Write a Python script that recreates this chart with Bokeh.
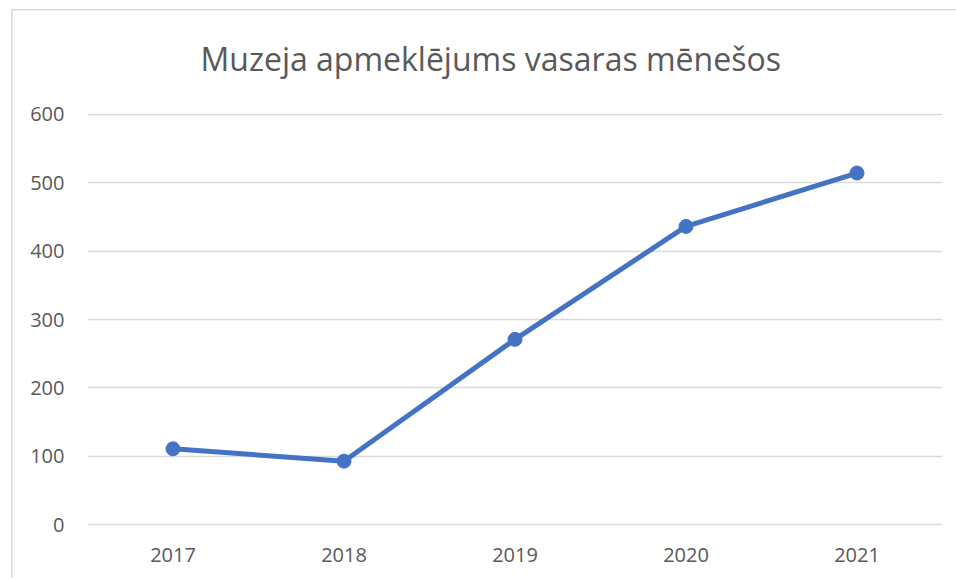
from bokeh.plotting import figure
from bokeh.models import FixedTicker
from bokeh.embed import file_html
from bokeh.resources import INLINE

title_text = "Muzeja apmeklējums vasaras mēnešos"
years = ["2017", "2018", "2019", "2020", "2021"]
visitors = [111, 93, 271, 436, 514]
y_ticks = [0, 100, 200, 300, 400, 500, 600]

FONT = "Open Sans"
GREY = "#595959"
GRID = "#d9d9d9"
BLUE = "#4472C4"

p = figure(width=956, height=578, x_range=years, y_range=(-1, 601),
           title=title_text,
           output_backend="svg", toolbar_location=None,
           min_border_left=87, min_border_right=14,
           min_border_top=108, min_border_bottom=53)
p.x_range.range_padding = 0
p.outline_line_color = None
p.background_fill_color = "white"
p.border_fill_color = None
p.styles = {
    "background-color": "white",
    "background-image": "linear-gradient(#d9d9d9,#d9d9d9), linear-gradient(#d9d9d9,#d9d9d9)",
    "background-size": "1.5px 600px, 960px 1.5px",
    "background-position": "11px 9px, 11px 9px",
    "background-repeat": "no-repeat, no-repeat",
}

p.title.text_font = FONT
p.title.text_font_size = "32px"
p.title.text_font_style = "normal"
p.title.text_color = GREY
p.title.align = "left"
p.title.offset = 113
p.title.standoff = 68
p.title.text_line_height = 0.7

p.xgrid.grid_line_color = None
p.ygrid.grid_line_color = GRID
p.ygrid.grid_line_width = 1.5
p.yaxis.ticker = FixedTicker(ticks=y_ticks)

for ax in (p.xaxis, p.yaxis):
    ax.axis_line_color = None
    ax.major_tick_line_color = None
    ax.minor_tick_line_color = None
    ax.major_tick_out = 0
    ax.major_tick_in = 0
    ax.major_label_text_font = FONT
    ax.major_label_text_font_size = "20px"
    ax.major_label_text_color = GREY

p.yaxis.major_label_standoff = 23
p.xaxis.major_label_standoff = 22

p.line(years, visitors, line_color=BLUE, line_width=5)
p.scatter(years, visitors, size=14, fill_color=BLUE, line_color=BLUE)

open("out.html", "w").write(file_html(p, INLINE))
